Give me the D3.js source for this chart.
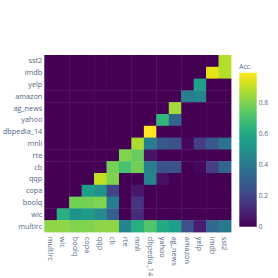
<!DOCTYPE html>
<html>
<head>
<meta charset="utf-8">
<script src="https://cdn.jsdelivr.net/npm/d3@7"></script>
<style>
  body { margin: 0; background: #fff; }
  text { font-family: "Open Sans", "DejaVu Sans", sans-serif; fill: #506784; }
</style>
</head>
<body>
<div id="chart"></div>
<script>
//=================== DATA ====================================
// tasks along the x axis, left to right
var xTasks = ["multirc", "wic", "boolq", "copa", "qqp", "cb", "rte", "mnli",
    "dbpedia_14", "yahoo", "ag_news", "amazon", "yelp", "imdb", "sst2"];

// tasks along the y axis, top to bottom
var yTasks = ["sst2", "imdb", "yelp", "amazon", "ag_news", "yahoo", "dbpedia_14",
    "mnli", "rte", "cb", "qqp", "copa", "boolq", "wic", "multirc"];

// accuracy per row (same order as yTasks), one value per xTask
var accSst2    = [0, 0, 0, 0, 0, 0, 0, 0, 0, 0, 0, 0, 0, 0, 0.88];
var accImdb    = [0, 0, 0, 0, 0, 0, 0, 0, 0, 0, 0, 0, 0, 0.95, 0.88];
var accYelp    = [0, 0, 0, 0, 0, 0, 0, 0, 0, 0, 0, 0, 0.55, 0, 0];
var accAmazon  = [0, 0, 0, 0, 0, 0, 0, 0, 0, 0, 0, 0.42, 0.45, 0, 0];
var accAgNews  = [0, 0, 0, 0, 0, 0, 0, 0, 0, 0, 0.85, 0, 0, 0, 0];
var accYahoo   = [0, 0, 0, 0, 0, 0, 0, 0, 0, 0.65, 0.32, 0, 0, 0, 0];
var accDbpedia = [0, 0, 0, 0, 0, 0, 0, 0, 0.99, 0, 0, 0, 0, 0, 0];
var accMnli    = [0, 0, 0, 0, 0, 0, 0, 0.87, 0.42, 0.27, 0.25, 0.02, 0.18, 0.27, 0.37];
var accRte     = [0, 0, 0, 0, 0, 0, 0.8, 0.76, 0.05, 0, 0, 0, 0, 0, 0];
var accCb      = [0, 0, 0, 0, 0, 0.78, 0.7, 0.78, 0.42, 0.25, 0.25, 0, 0.02, 0.18, 0.32];
var accQqp     = [0, 0, 0, 0, 0.9, 0.8, 0, 0, 0.45, 0.04, 0, 0, 0, 0, 0];
var accCopa    = [0, 0, 0, 0.55, 0.5, 0.2, 0, 0.06, 0, 0, 0, 0, 0, 0, 0];
var accBoolq   = [0, 0, 0.78, 0.78, 0.8, 0.42, 0, 0.15, 0, 0, 0, 0, 0, 0, 0];
var accWic     = [0, 0.62, 0.5, 0.53, 0.47, 0.3, 0, 0.12, 0, 0, 0, 0, 0, 0, 0];
var accMultirc = [0.82, 0.82, 0.8, 0.8, 0.82, 0.82, 0.45, 0.62, 0.72, 0.6, 0.55, 0.25, 0.08, 0.33, 0.4];

var accRows = [accSst2, accImdb, accYelp, accAmazon, accAgNews, accYahoo, accDbpedia,
    accMnli, accRte, accCb, accQqp, accCopa, accBoolq, accWic, accMultirc];

var colorTicks = [0, 0.2, 0.4, 0.6, 0.8];
var colorTitle = "Acc.";

//=================== LAYOUT ====================================
var svgWidth = 278,
    svgHeight = 278;
var plotLeft = 44.3, plotRight = 231, plotTop = 55, plotBottom = 232;
var barLeft = 239.3, barWidth = 17.4, barTop = 72.7, barBottom = 226.7;

var svg = d3.select("#chart")
    .append("svg")
    .attr("width", svgWidth)
    .attr("height", svgHeight);

// flatten rows into cells
var cells = [];
accRows.forEach(function (row, r) {
    row.forEach(function (v, c) {
        cells.push({ x: xTasks[c], y: yTasks[r], value: v });
    });
});

var zMax = d3.max(cells, function (d) { return d.value });

var xScale = d3.scaleBand().domain(xTasks).range([plotLeft, plotRight]);
var yScale = d3.scaleBand().domain(yTasks).range([plotTop, plotBottom]);
var colorScale = d3.scaleSequential(d3.interpolateViridis).domain([0, zMax]);

//=================== HEATMAP ====================================
svg.append("g")
    .selectAll("rect")
    .data(cells)
    .enter()
    .append("rect")
    .attr("x", function (d) { return xScale(d.x) })
    .attr("y", function (d) { return yScale(d.y) })
    .attr("width", xScale.bandwidth() + 0.4)
    .attr("height", yScale.bandwidth() + 0.4)
    .attr("fill", function (d) { return colorScale(d.value) });

// y tick labels
svg.append("g")
    .selectAll("text")
    .data(yTasks)
    .enter()
    .append("text")
    .attr("x", plotLeft - 2)
    .attr("y", function (d) { return yScale(d) + yScale.bandwidth() / 2 })
    .attr("dy", "0.35em")
    .attr("text-anchor", "end")
    .style("font-size", "7.3px")
    .text(function (d) { return d });

// x tick labels, rotated to read downwards
svg.append("g")
    .selectAll("text")
    .data(xTasks)
    .enter()
    .append("text")
    .attr("transform", function (d) {
        return "translate(" + [xScale(d) + xScale.bandwidth() / 2, plotBottom + 4.8] + ") rotate(90)";
    })
    .attr("dy", "0.35em")
    .attr("text-anchor", "start")
    .style("font-size", "7.3px")
    .text(function (d) { return d });

//=================== COLORBAR ====================================
var grad = svg.append("defs")
    .append("linearGradient")
    .attr("id", "viridisGrad")
    .attr("x1", 0).attr("y1", 1)
    .attr("x2", 0).attr("y2", 0);

grad.selectAll("stop")
    .data(d3.range(0, 1.0001, 0.05))
    .enter()
    .append("stop")
    .attr("offset", function (t) { return t })
    .attr("stop-color", function (t) { return d3.interpolateViridis(t) });

svg.append("rect")
    .attr("x", barLeft)
    .attr("y", barTop)
    .attr("width", barWidth)
    .attr("height", barBottom - barTop)
    .attr("fill", "url(#viridisGrad)");

var barScale = d3.scaleLinear().domain([0, zMax]).range([barBottom, barTop]);

var barAxis = d3.axisRight(barScale)
    .tickValues(colorTicks)
    .tickSize(0)
    .tickPadding(2)
    .tickFormat(function (d) { return d === 0 ? "0" : d3.format(".1f")(d) });

var barAxisG = svg.append("g")
    .attr("transform", "translate(" + (barLeft + barWidth) + ",0)")
    .call(barAxis);
barAxisG.select(".domain").remove();
barAxisG.selectAll("text")
    .style("font-size", "6.6px")
    .style("font-family", null)
    .attr("fill", "#506784");

svg.append("text")
    .attr("x", barLeft)
    .attr("y", barTop - 3.5)
    .style("font-size", "6.6px")
    .text(colorTitle);
</script>
</body>
</html>
